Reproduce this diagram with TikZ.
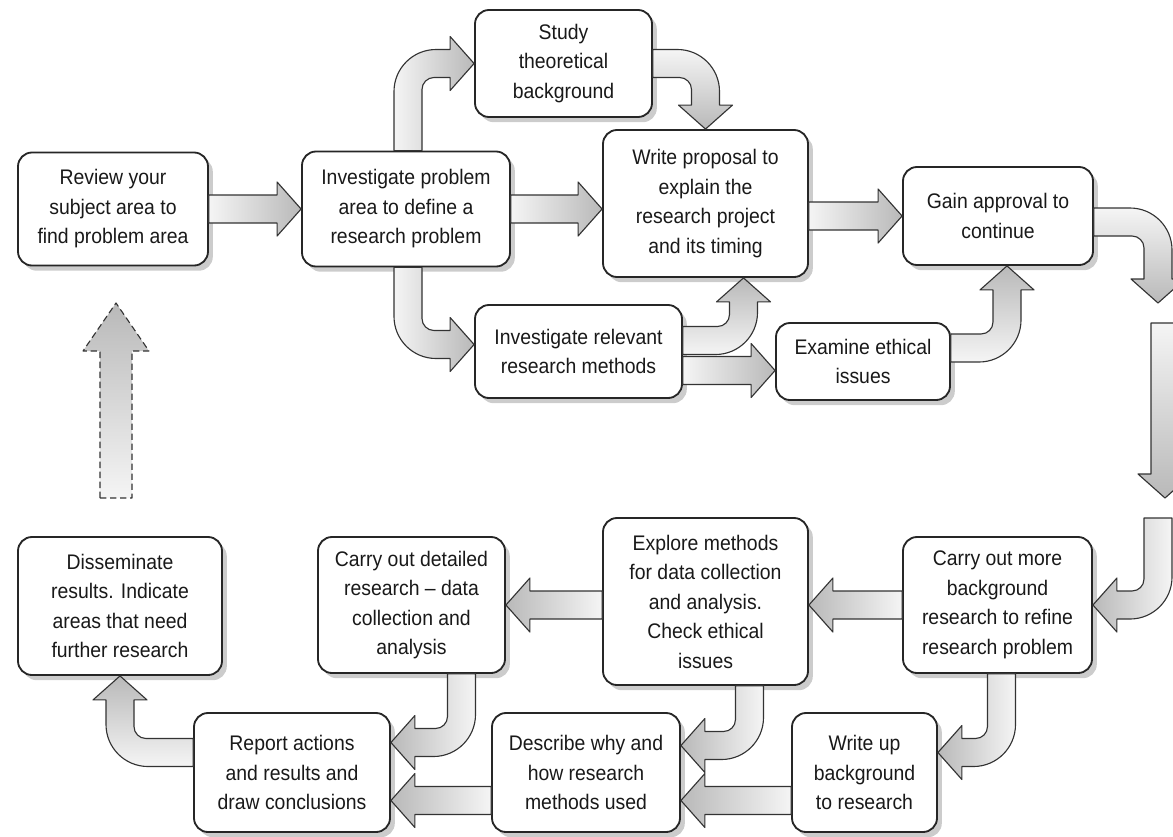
\documentclass[tikz,border=0pt]{standalone}
\usepackage{fontspec}
\setmainfont{Liberation Sans}[FakeStretch=0.92]
\usetikzlibrary{calc,shadows}

\tikzset{
  task/.style={draw=black!85, line width=1.3pt, rounded corners=3.5mm, fill=white,
    text=black!90, align=center, inner sep=0pt,
    font=\fontsize{15}{21}\selectfont,
    drop shadow={shadow xshift=1.2mm, shadow yshift=-1.3mm, fill=black!40}},
  flow/.style={draw=black!80, line width=0.8pt, line join=round},
  toR/.style={left color=gray!8, right color=gray!55},
  toL/.style={left color=gray!55, right color=gray!8},
  toD/.style={top color=gray!8, bottom color=gray!55},
  toU/.style={top color=gray!55, bottom color=gray!8},
  headR/.style={insert path={-- ++(0,-13) -- #1 -- ++(-24,27) -- ++(0,-13)}},
  headL/.style={insert path={-- ++(0,13) -- #1 -- ++(24,-27) -- ++(0,13)}},
  headD/.style={insert path={-- ++(13,0) -- #1 -- ++(-27,-24) -- ++(13,0)}},
  headU/.style={insert path={-- ++(-13,0) -- #1 -- ++(27,24) -- ++(-13,0)}},
}

\begin{document}
\begin{tikzpicture}[x=0.25mm,y=-0.25mm]

\useasboundingbox (0,0) rectangle (1173,836);

\node[task, minimum width=47.5mm, minimum height=28.25mm]
(R)
at (113,209)
{Review your\\subject area to\\find problem area};

\node[task, minimum width=52mm, minimum height=28.75mm]
(P)
at (406,209)
{Investigate problem\\area to define a\\research problem};

\node[task, minimum width=44.25mm, minimum height=26.75mm]
(S)
at (563.5,63.5)
{Study\\theoretical\\background};

\node[task, minimum width=51.25mm, minimum height=36.75mm]
(W)
at (705.5,203.5)
{Write proposal to\\explain the\\research project\\and its timing};

\node[task, minimum width=51.75mm, minimum height=23.25mm]
(M)
at (578.5,351.5)
{Investigate relevant\\research methods};

\node[task, minimum width=43.5mm, minimum height=19.25mm]
(E)
at (863,361.5)
{Examine ethical\\issues};

\node[task, minimum width=47.5mm, minimum height=24.5mm]
(G)
at (998,216)
{Gain approval to\\continue};

\node[task, minimum width=47.25mm, minimum height=34mm]
(B)
at (997.5,605)
{Carry out more\\background\\research to refine\\research problem};

\node[task, minimum width=51.25mm, minimum height=41.75mm]
(X)
at (705.5,601.5)
{Explore methods\\for data collection\\and analysis.\\Check ethical\\issues};

\node[task, minimum width=46.75mm, minimum height=34mm]
(C)
at (411.5,605)
{Carry out detailed\\research -- data\\collection and\\analysis};

\node[task, minimum width=51mm, minimum height=34.5mm]
(D)
at (120,606)
{Disseminate\\results. Indicate\\areas that need\\further research};

\node[task, minimum width=49mm, minimum height=29.75mm]
(A)
at (292,772.5)
{Report actions\\and results and\\draw conclusions};

\node[task, minimum width=47mm, minimum height=29.75mm]
(H)
at (586,772.5)
{Describe why and\\how research\\methods used};

\node[task, minimum width=36.25mm, minimum height=29.75mm]
(U)
at (864.5,772.5)
{Write up\\background\\to research};

\coordinate (gtip) at (1158,303);
\coordinate (dtop) at (1165,323);
\coordinate (dtip) at (1165,498);
\coordinate (ctop) at (1158,518);
\coordinate (back0) at (116,498);
\coordinate (back1) at (116,303);

\coordinate (K3) at ($(P.north |- S.west)+(2,0)$);
\coordinate (K4) at ($(P.south |- M.west)+(2,-7)$);
\coordinate (K5) at (S.east -| W.north);
\coordinate (K6) at ($(M.east -| W.south)+(38,-11)$);
\coordinate (K9) at ($(E.east -| G.south)+(9,-13.5)$);
\coordinate (K10) at ($(G.east -| gtip)+(0,6)$);
\coordinate (K12) at (ctop |- B.east);
\coordinate (K14) at ($(B.south |- U.east)+(4,-20)$);
\coordinate (K16) at ($(X.south |- H.east)+(44,-27)$);
\coordinate (K18) at ($(C.south |- A.east)+(50,-30)$);
\coordinate (K20) at ($(A.west -| D.south)+(0,-20)$);

\shadedraw[flow, toR] ($(R.east)+(0,-14)$) -- ($(P.west)+(-24,-14)$)
  [headR={(P.west)}] -- ($(R.east)+(0,14)$) -- cycle;

\shadedraw[flow, toR] ($(P.east)+(0,-14)$) -- ($(P.east -| W.west)+(-24,-14)$)
  [headR={(P.east -| W.west)}] -- ($(P.east)+(0,14)$) -- cycle;

\shadedraw[flow, toR] ($(P.north)+(-12,0)$) -- ($(K3)+(-14,28)$)
  arc[start angle=180, end angle=90, radius=10.5mm] -- ($(S.west)+(-24,-14)$)
  [headR={(S.west)}] -- ($(K3)+(26,14)$)
  arc[start angle=90, end angle=180, radius=3mm] -- ($(P.north)+(16,0)$) -- cycle;

\shadedraw[flow, toR] ($(P.south)+(16,0)$) -- ($(K4)+(14,-26)$)
  arc[start angle=180, end angle=270, radius=3mm] -- ($(M.west)+(-24,-21)$)
  [headR={($(M.west)+(0,-7)$)}] -- ($(K4)+(28,14)$)
  arc[start angle=270, end angle=180, radius=10.5mm] -- ($(P.south)+(-12,0)$) -- cycle;

\shadedraw[flow, toD] ($(S.east)+(0,-14)$) -- ($(K5)+(-28,-14)$)
  arc[start angle=90, end angle=0, radius=10.5mm] -- ($(W.north)+(14,-24)$)
  [headD={(W.north)}] -- ($(K5)+(-14,26)$)
  arc[start angle=0, end angle=90, radius=3mm] -- ($(S.east)+(0,14)$) -- cycle;

\shadedraw[flow, toU] ($(M.east)+(0,-25)$) -- ($(K6)+(-26,-14)$)
  arc[start angle=270, end angle=360, radius=3mm] -- ($(W.south)+(24,24)$)
  [headU={($(W.south)+(38,0)$)}] -- ($(K6)+(14,-28)$)
  arc[start angle=0, end angle=-90, radius=10.5mm] -- ($(M.east)+(0,3)$) -- cycle;

\shadedraw[flow, toR] ($(M.east)+(0,5)$) -- ($(M.east -| E.west)+(-24,5)$)
  [headR={($(M.east -| E.west)+(0,19)$)}] -- ($(M.east)+(0,33)$) -- cycle;

\shadedraw[flow, toR] ($(G.west -| W.east)+(0,-14)$) -- ($(G.west)+(-24,-14)$)
  [headR={(G.west)}] -- ($(G.west -| W.east)+(0,14)$) -- cycle;

\shadedraw[flow, toU] ($(E.east)+(0,-27.5)$) -- ($(K9)+(-26,-14)$)
  arc[start angle=270, end angle=360, radius=3mm] -- ($(G.south)+(-5,24)$)
  [headU={($(G.south)+(9,0)$)}] -- ($(K9)+(14,-28)$)
  arc[start angle=0, end angle=-90, radius=10.5mm] -- ($(E.east)+(0,0.5)$) -- cycle;

\shadedraw[flow, toD] ($(G.east)+(0,-8)$) -- ($(K10)+(-28,-14)$)
  arc[start angle=90, end angle=0, radius=10.5mm] -- ($(gtip)+(14,-24)$)
  [headD={(gtip)}] -- ($(K10)+(-14,26)$)
  arc[start angle=0, end angle=90, radius=3mm] -- ($(G.east)+(0,20)$) -- cycle;

\shadedraw[flow, toD] ($(dtop)+(14,0)$) -- ($(dtip)+(14,-24)$)
  [headD={(dtip)}] -- ($(dtop)+(-14,0)$) -- cycle;

\shadedraw[flow, toL] ($(ctop)+(14,0)$) -- ($(K12)+(14,-28)$)
  arc[start angle=0, end angle=-90, radius=10.5mm] -- ($(B.east)+(24,14)$)
  [headL={(B.east)}] -- ($(K12)+(-26,-14)$)
  arc[start angle=270, end angle=360, radius=3mm] -- ($(ctop)+(-14,0)$) -- cycle;

\shadedraw[flow, toL] ($(B.west)+(0,14)$) -- ($(B.west -| X.east)+(24,14)$)
  [headL={(B.west -| X.east)}] -- ($(B.west)+(0,-14)$) -- cycle;

\shadedraw[flow, toL] ($(B.south)+(18,0)$) -- ($(K14)+(14,-28)$)
  arc[start angle=0, end angle=-90, radius=10.5mm] -- ($(U.east)+(24,-6)$)
  [headL={($(U.east)+(0,-20)$)}] -- ($(K14)+(-26,-14)$)
  arc[start angle=270, end angle=360, radius=3mm] -- ($(B.south)+(-10,0)$) -- cycle;

\shadedraw[flow, toL] ($(C.east -| X.west)+(0,14)$) -- ($(C.east)+(24,14)$)
  [headL={(C.east)}] -- ($(C.east -| X.west)+(0,-14)$) -- cycle;

\shadedraw[flow, toL] ($(X.south)+(58,0)$) -- ($(K16)+(14,-28)$)
  arc[start angle=0, end angle=-90, radius=10.5mm] -- ($(H.east)+(24,-13)$)
  [headL={($(H.east)+(0,-27)$)}] -- ($(K16)+(-26,-14)$)
  arc[start angle=270, end angle=360, radius=3mm] -- ($(X.south)+(30,0)$) -- cycle;

\shadedraw[flow, toL] ($(U.west)+(0,42)$) -- ($(H.east)+(24,42)$)
  [headL={($(H.east)+(0,28)$)}] -- ($(U.west)+(0,14)$) -- cycle;

\shadedraw[flow, toL] ($(C.south)+(64,0)$) -- ($(K18)+(14,-28)$)
  arc[start angle=0, end angle=-90, radius=10.5mm] -- ($(A.east)+(24,-16)$)
  [headL={($(A.east)+(0,-30)$)}] -- ($(K18)+(-26,-14)$)
  arc[start angle=270, end angle=360, radius=3mm] -- ($(C.south)+(36,0)$) -- cycle;

\shadedraw[flow, toL] ($(H.west)+(0,42)$) -- ($(A.east)+(24,42)$)
  [headL={($(A.east)+(0,28)$)}] -- ($(H.west)+(0,14)$) -- cycle;

\shadedraw[flow, toU] ($(A.west)+(0,-6)$) -- ($(K20)+(28,14)$)
  arc[start angle=270, end angle=180, radius=10.5mm] -- ($(D.south)+(-14,24)$)
  [headU={(D.south)}] -- ($(K20)+(14,-26)$)
  arc[start angle=180, end angle=270, radius=3mm] -- ($(A.west)+(0,-34)$) -- cycle;

\shadedraw[flow, toU, dash pattern=on 1.6mm off 0.9mm]
  ($(back0)+(-16,0)$) -- ($(back1)+(-16,48)$) -- ++(-17,0) -- (back1)
  -- ++(33,48) -- ++(-17,0) -- ($(back0)+(16,0)$) -- cycle;

\end{tikzpicture}
\end{document}
